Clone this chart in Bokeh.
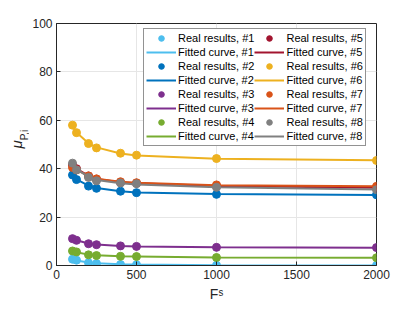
from bokeh.plotting import figure
from bokeh.models import Legend, LegendItem, Range1d, FixedTicker
from bokeh.layouts import row
from bokeh.core.properties import value
from bokeh.embed import file_html
from bokeh.resources import INLINE
import math

fs = [100, 125, 200, 250, 400, 500, 1000, 2000]

real_1 = [2.6, 2.2, 1.1, 0.8, 0.4, 0.3, 0.1, 0.05]
real_2 = [37.4, 35.5, 32.8, 31.9, 30.7, 30.1, 29.4, 29.2]
real_3 = [11.1, 10.4, 9.0, 8.6, 8.1, 7.9, 7.5, 7.4]
real_4 = [6.0, 5.6, 4.4, 4.1, 3.8, 3.7, 3.3, 3.2]
real_5 = [41.5, 40.0, 37.0, 35.6, 34.3, 34.0, 32.8, 32.0]
real_6 = [58.0, 54.9, 50.4, 48.6, 46.4, 45.6, 44.2, 43.4]
real_7 = [40.5, 39.5, 37.0, 35.8, 34.6, 34.2, 33.3, 32.7]
real_8 = [42.3, 39.5, 36.4, 35.0, 34.1, 33.8, 32.3, 31.3]

fit_1 = [2.5, 2.1, 1.2, 0.9, 0.5, 0.4, 0.15, 0.05]
fit_2 = [37.0, 35.6, 33.0, 32.0, 30.7, 30.2, 29.5, 29.1]
fit_3 = [11.0, 10.4, 9.1, 8.7, 8.1, 7.9, 7.5, 7.3]
fit_4 = [5.9, 5.5, 4.5, 4.2, 3.8, 3.7, 3.3, 3.2]
fit_5 = [41.3, 40.0, 37.0, 35.7, 34.4, 34.0, 32.8, 32.1]
fit_6 = [57.6, 55.0, 50.5, 48.8, 46.3, 45.5, 44.1, 43.5]
fit_7 = [40.6, 39.5, 37.0, 35.9, 34.6, 34.2, 33.2, 32.7]
fit_8 = [41.8, 39.8, 36.6, 35.3, 34.0, 33.5, 32.3, 31.4]

reals = [real_1, real_2, real_3, real_4, real_5, real_6, real_7, real_8]
fits = [fit_1, fit_2, fit_3, fit_4, fit_5, fit_6, fit_7, fit_8]
colors = ["#4DBEEE", "#0072BD", "#7E2F8E", "#77AC30", "#A2142F", "#EDB120", "#D95319", "#808080"]
names = ["#1", "#2", "#3", "#4", "#5", "#6", "#7", "#8"]

x_ticks = [0, 500, 1000, 1500, 2000]
y_ticks = [0, 20, 40, 60, 80, 100]

FONT = "Liberation Sans"
AX = "#262626"
H = 304
LW = 29

# narrow strip holding the y-axis title (mu with subscript P,i)
lab = figure(width=LW, height=H, output_backend="svg", toolbar_location=None,
             x_range=Range1d(0, LW), y_range=Range1d(0, H),
             min_border_left=0, min_border_right=0, min_border_top=0, min_border_bottom=0)
lab.axis.visible = False
lab.grid.visible = False
lab.outline_line_color = None
lab.background_fill_color = "white"
lab.border_fill_color = "white"
lab.text(x=[15.5], y=[H - 152], text=["μ"], angle=math.pi / 2,
         text_font=value(FONT), text_font_size="15px", text_font_style="italic",
         text_color=AX, text_align="center", text_baseline="alphabetic")
lab.text(x=[24], y=[H - 140], text=["P,i"], angle=math.pi / 2,
         text_font=value(FONT), text_font_size="10px",
         text_color=AX, text_align="center", text_baseline="alphabetic")

p = figure(width=407 - LW, height=H, output_backend="svg", toolbar_location=None,
           x_range=Range1d(0, 2000), y_range=Range1d(0, 100),
           min_border_left=54 - LW, min_border_right=31, min_border_top=23, min_border_bottom=37)
p.background_fill_color = "white"
p.border_fill_color = "white"
p.outline_line_color = AX
p.outline_line_width = 1

for ax in (p.xaxis[0], p.yaxis[0]):
    ax.axis_line_color = AX
    ax.major_tick_line_color = AX
    ax.major_tick_in = 4
    ax.major_tick_out = 0
    ax.minor_tick_line_color = None
    ax.major_label_text_font = FONT
    ax.major_label_text_font_size = "12px"
    ax.major_label_text_color = AX
    ax.axis_label_text_font = FONT
    ax.axis_label_text_font_style = "normal"
    ax.axis_label_text_color = AX

p.xaxis[0].ticker = FixedTicker(ticks=x_ticks)
p.yaxis[0].ticker = FixedTicker(ticks=y_ticks)
p.xaxis[0].axis_label = "Fˢ"
p.xaxis[0].axis_label_text_font_size = "14px"
p.xaxis[0].axis_label_standoff = 4
p.xaxis[0].major_label_standoff = 4
p.yaxis[0].major_label_standoff = 4

p.xgrid.ticker = FixedTicker(ticks=x_ticks)
p.ygrid.ticker = FixedTicker(ticks=y_ticks)
p.grid.grid_line_color = "#E6E6E6"
p.grid.grid_line_width = 1

items = []
for r, f, c, n in zip(reals, fits, colors, names):
    sc = p.scatter(fs, r, size=8, marker="circle", fill_color=c, line_color=c)
    ln = p.line(fs, f, line_width=2, line_color=c)
    items.append(LegendItem(label="Real results, " + n, renderers=[sc]))
    items.append(LegendItem(label="Fitted curve, " + n, renderers=[ln]))

legend = Legend(items=items, ncols=2, location=(87, 119),
                label_text_font=FONT, label_text_font_size="11px", label_text_color="#000000",
                glyph_width=30, glyph_height=14, label_height=14, label_standoff=2,
                spacing=0, padding=2, margin=0,
                border_line_color=AX, border_line_width=1,
                background_fill_color="white", background_fill_alpha=1)
p.add_layout(legend, "center")

layout = row(lab, p, spacing=0)
open("out.html", "w").write(file_html(layout, INLINE))
